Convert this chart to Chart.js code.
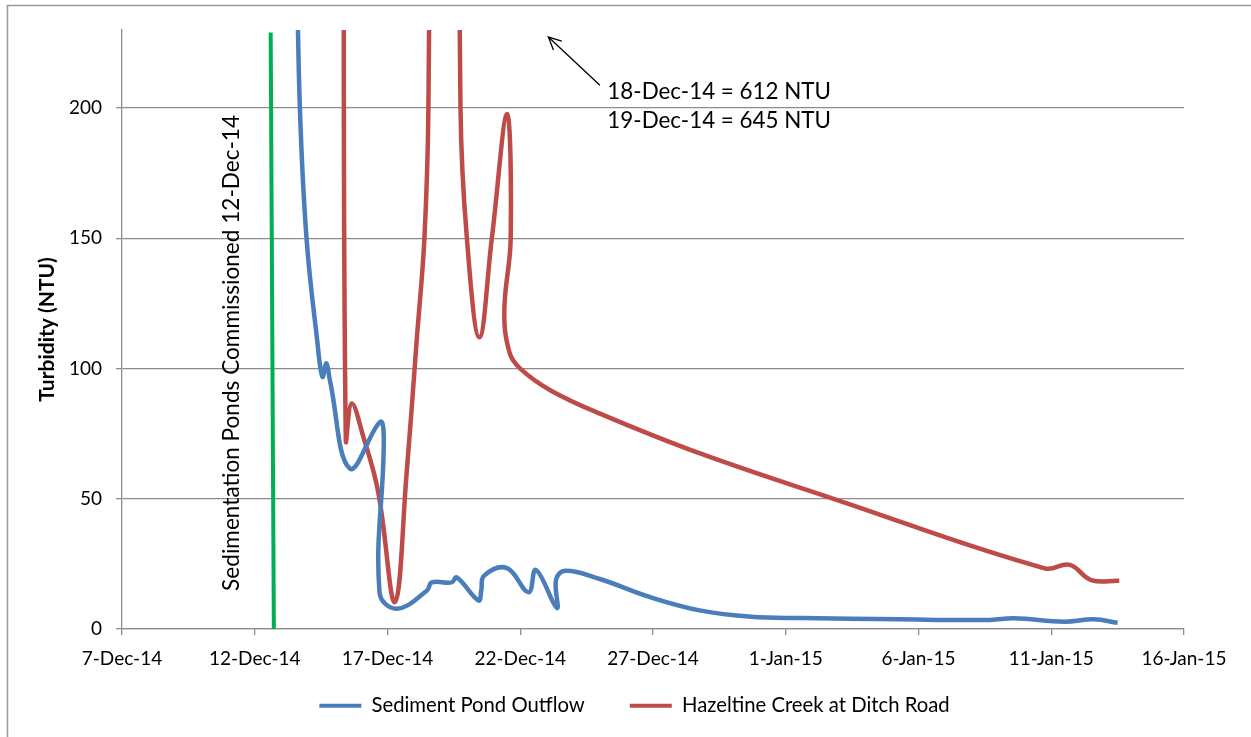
<!DOCTYPE html>
<html><head><meta charset="utf-8">
<script src="https://cdn.jsdelivr.net/npm/chart.js@4.4.1/dist/chart.umd.min.js"></script>
<style>html,body{margin:0;padding:0;background:#fff;}canvas{display:block;}</style>
</head><body>
<canvas id="c" width="1251" height="737"></canvas>
<script>
// x values: days since 7-Dec-14
const xTickLabels = ['7-Dec-14','12-Dec-14','17-Dec-14','22-Dec-14','27-Dec-14','1-Jan-15','6-Jan-15','11-Jan-15','16-Jan-15'];
const seriesNames = ['Sediment Pond Outflow','Hazeltine Creek at Ditch Road'];

const pondDays = [6.58, 6.70, 6.95, 7.35, 7.55, 7.70, 7.83, 8.58, 9.72, 9.86, 9.70, 10.35, 11.48, 11.67, 12.42, 12.61, 13.43, 13.53, 13.64, 14.50, 15.31, 15.59, 16.38, 16.35, 16.70, 18.0, 19.9, 21.8, 23.7, 25.6, 29.3, 32.7, 33.6, 35.5, 36.6, 37.5];
const pondNTU  = [260, 200, 150, 111, 96.8, 102, 95.5, 61.6, 79.5, 72, 14, 7.8, 14.7, 17.9, 17.9, 19.8, 10.9, 14.7, 20.5, 23.4, 14.1, 22.7, 8.1, 19, 22.4, 19.2, 12.2, 7.05, 4.7, 4.2, 3.7, 3.5, 4.1, 2.8, 3.7, 2.4];

const creekDays = [8.34, 8.43, 8.65, 9.09, 9.65, 10.28, 10.72, 11.10, 11.39, 11.54, 11.85, 12.45, 12.75, 12.99, 13.46, 13.93, 14.50, 14.64, 14.40, 14.60, 15.0, 16.13, 18.0, 21.8, 26.8, 34.75, 35.7, 36.5, 37.56];
const creekNTU  = [330, 72.5, 86.6, 73.8, 52.6, 10.4, 59.7, 110.9, 150, 200, 612, 645, 200, 150, 112, 150, 197.7, 150, 122, 106, 100, 91.7, 82.7, 67.3, 50, 23.3, 24.6, 18.8, 18.5];

const commissionDays = [5.72, 5.60];
const commissionNTU  = [0, 229];

const commissionText = 'Sedimentation Ponds Commissioned 12-Dec-14';
const noteLines = ['18-Dec-14 = 612 NTU', '19-Dec-14 = 645 NTU'];

// annotation anchors (in data units)
const commissionTextAt = [4.13, 106];
const arrowFrom = [18.0, 208.8];
const arrowTo = [16.06, 227.3];
const noteAt = [[18.28, 203.5], [18.28, 192.3]];

const toPts = (xs, ys) => xs.map((v, i) => ({x: v, y: ys[i]}));

const FONT = 'Lato';
const GRID = '#8c8c8c';

const notes = {
  id: 'notes',
  afterLayout(chart) {
    // let the x tick labels extend below the (thin) x-axis box
    const s = chart.scales.x;
    s.bottom = chart.height;
  },
  beforeDraw(chart) {
    const ctx = chart.ctx;
    ctx.save();
    ctx.strokeStyle = '#9a9a9a';
    ctx.lineWidth = 1.5;
    ctx.strokeRect(7.5, 5.5, 1400, 900);
    ctx.restore();
  },
  afterDraw(chart) {
    const {ctx, scales: {x, y}} = chart;
    ctx.save();
    ctx.fillStyle = '#000';
    ctx.save();
    ctx.translate(x.getPixelForValue(commissionTextAt[0]), y.getPixelForValue(commissionTextAt[1]));
    ctx.rotate(-Math.PI / 2);
    ctx.font = '22.6px ' + FONT;
    ctx.textAlign = 'center';
    ctx.textBaseline = 'middle';
    ctx.fillText(commissionText, 0, 0);
    ctx.restore();
    const x1 = x.getPixelForValue(arrowFrom[0]), y1 = y.getPixelForValue(arrowFrom[1]);
    const x2 = x.getPixelForValue(arrowTo[0]), y2 = y.getPixelForValue(arrowTo[1]);
    ctx.strokeStyle = '#000';
    ctx.lineWidth = 1.3;
    ctx.beginPath(); ctx.moveTo(x1, y1); ctx.lineTo(x2, y2); ctx.stroke();
    const ang = Math.atan2(y1 - y2, x1 - x2);
    const L = 14, A = 0.45;
    ctx.beginPath();
    ctx.moveTo(x2 + L * Math.cos(ang + A), y2 + L * Math.sin(ang + A));
    ctx.lineTo(x2, y2);
    ctx.lineTo(x2 + L * Math.cos(ang - A), y2 + L * Math.sin(ang - A));
    ctx.stroke();
    ctx.font = '22.4px ' + FONT;
    ctx.textAlign = 'left';
    ctx.textBaseline = 'alphabetic';
    noteLines.forEach((t, i) => ctx.fillText(t, x.getPixelForValue(noteAt[i][0]), y.getPixelForValue(noteAt[i][1])));
    ctx.restore();
  }
};

new Chart(document.getElementById('c'), {
  type: 'line',
  data: {
    datasets: [
      {label: seriesNames[0], data: toPts(pondDays, pondNTU), borderColor: '#4a7ebb', backgroundColor: '#4a7ebb', borderWidth: 4.5, pointRadius: 0, tension: 0.4, capBezierPoints: false, clip: 0},
      {label: seriesNames[1], data: toPts(creekDays, creekNTU), borderColor: '#be4b48', backgroundColor: '#be4b48', borderWidth: 4.5, pointRadius: 0, tension: 0.4, capBezierPoints: false, clip: 0},
      {label: 'commission', data: toPts(commissionDays, commissionNTU), borderColor: '#00b050', backgroundColor: '#00b050', borderWidth: 4, pointRadius: 0, tension: 0, clip: 0}
    ]
  },
  options: {
    responsive: false,
    animation: false,
    devicePixelRatio: 1,
    layout: {padding: {left: 18, right: 0, top: 30, bottom: 16.5}},
    plugins: {
      tooltip: {enabled: false},
      legend: {
        position: 'bottom',
        maxHeight: 70,
        labels: {
          font: {family: FONT, size: 20.3},
          color: '#000',
          boxWidth: 42,
          boxHeight: 4,
          padding: 45,
          filter: item => item.datasetIndex < 2,
          generateLabels: chart => Chart.defaults.plugins.legend.labels.generateLabels(chart).map(l => Object.assign(l, {lineWidth: 0}))
        }
      }
    },
    scales: {
      x: {
        type: 'linear', min: 0, max: 40,
        afterFit: s => { s.height = 21.5; },
        border: {color: GRID, width: 1.3},
        grid: {drawOnChartArea: false, color: GRID, lineWidth: 1.3, tickLength: 6},
        ticks: {stepSize: 5, autoSkip: false, maxRotation: 0, padding: 12, color: '#000', font: {family: FONT, size: 19},
                callback: v => xTickLabels[Math.round(v / 5)]}
      },
      y: {
        min: 0, max: 230,
        afterFit: s => { s.width = 104; },
        border: {color: GRID, width: 1.3},
        grid: {color: GRID, lineWidth: 1.3, tickLength: 6},
        ticks: {stepSize: 50, includeBounds: false, padding: 14, color: '#000', font: {family: FONT, size: 19}},
        title: {display: true, text: 'Turbidity (NTU)', color: '#000', font: {family: FONT, size: 21, weight: 'bold'}, padding: {top: 16.4, bottom: 0}}
      },
      y2: {
        position: 'right', display: true,
        afterFit: s => { s.width = 67; },
        grid: {display: false}, border: {display: false}, ticks: {display: false}
      }
    }
  },
  plugins: [notes]
});
</script>
</body></html>
